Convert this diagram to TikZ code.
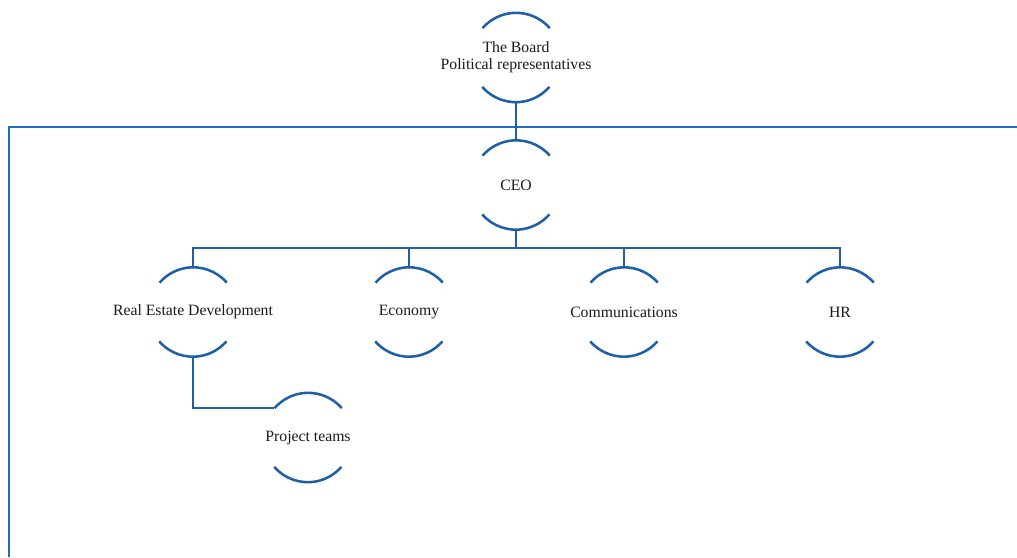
\documentclass[tikz,border=0pt]{standalone}
\usepackage{fontspec}
\setmainfont{Liberation Serif}
\definecolor{arcblue}{HTML}{1F5FA6}
\definecolor{frameblue}{HTML}{1A6FC4}
\definecolor{txt}{HTML}{1A1A1A}
\begin{document}
\begin{tikzpicture}[x=0.75pt,y=-0.75pt,
  orgnode/.style={circle, minimum size=66.75pt, inner sep=0pt},
  orgtext/.style={text=txt, font=\fontsize{11.8}{12.5}\selectfont, align=center, inner sep=0pt},
  arcline/.style={draw=arcblue, line width=1.9pt},
  conn/.style={draw=arcblue, line width=1.9pt},
  frameline/.style={draw=frameblue, line width=1.8pt}]
\useasboundingbox (0,0) rectangle (1017,557);
% frame
\coordinate (fr1) at (1017,127);
\coordinate (fr2) at (9,127);
\coordinate (fr3) at (9,557);
\draw[frameline] (fr1) -- (fr2) -- (fr3);
% nodes
\node[orgnode, label={[orgtext]center:The Board\\Political representatives}] (board) at (516,57.5) {};
\node[orgnode, label={[orgtext]center:CEO}] (ceo) at (516,185) {};
\node[orgnode, label={[orgtext]center:Real Estate Development}] (re) at (193,312) {};
\node[orgnode, label={[orgtext]center:Economy}] (eco) at (409,312) {};
\node[orgnode, label={[orgtext]center:Communications}] (com) at (624,312) {};
\node[orgnode, label={[orgtext]center:HR}] (hr) at (840,312) {};
\node[orgnode, label={[orgtext]center:Project teams}] (pt) at (308,437.5) {};
% arcs
\foreach \n in {board,ceo,re,eco,com,hr,pt}{
  \draw[arcline] (\n.41) arc[start angle=41, end angle=139, radius=33.375pt];
  \draw[arcline] (\n.221) arc[start angle=221, end angle=319, radius=33.375pt];
}
% connectors
\draw[conn] (board.south) -- (ceo.north);
\draw[conn] (ceo.south) -- ++(0,18) -| (re.north);
\draw[conn] (ceo.south) -- ++(0,18) -| (eco.north);
\draw[conn] (ceo.south) -- ++(0,18) -| (com.north);
\draw[conn] (ceo.south) -- ++(0,18) -| (hr.north);
\draw[conn] (re.south) |- (pt.139);
\end{tikzpicture}
\end{document}
